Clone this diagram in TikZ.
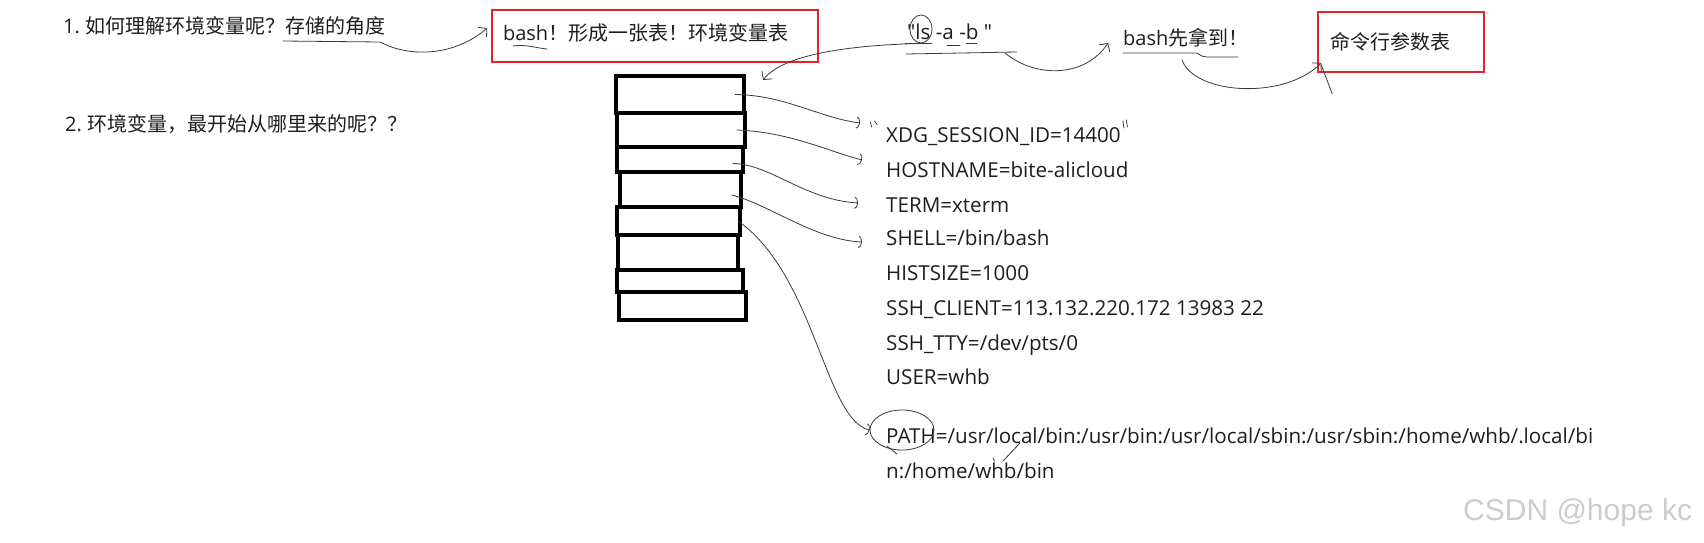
\documentclass[tikz,border=0pt]{standalone}
\usepackage{fontspec}
\setmainfont{Noto Sans CJK SC}
\newfontfamily\latinf{Open Sans}
\newfontfamily\markf{Liberation Sans}
\usetikzlibrary{arrows.meta,calc,shapes.geometric}
\definecolor{boxred}{HTML}{E3242B}
\definecolor{ink}{HTML}{1E1E1E}
\definecolor{pencil}{HTML}{3A3A3A}

\begin{document}
\begin{tikzpicture}[
  x=1pt, y=-1pt,
  cjk/.style={anchor=west, inner sep=0pt, text=ink, text height=15.2pt,
              text depth=0pt, font=\fontsize{20}{24}\selectfont},
  env/.style={anchor=west, inner sep=0pt, text=ink, text height=14.7pt,
              text depth=0pt, font=\latinf\fontsize{20.6}{24}\selectfont},
  redbox/.style={draw=boxred, line width=1.6pt, inner ysep=0pt, align=left,
                 text=ink, font=\fontsize{20}{24}\selectfont},
  cell/.style={draw, line width=4pt, inner sep=0pt, outer sep=0pt},
  pen/.style={draw=pencil, line width=0.8pt, line cap=round, line join=round},
  hook/.style={pen, -{Straight Barb[length=6pt, width=13pt]}},
  curl/.style={pen, -{Arc Barb[length=3.5pt, width=12pt]}}
]
\fill[white] (0,0) rectangle (1704,543);
\useasboundingbox (0,0) rectangle (1704,543);

%--- table -------------------------------------------------------------------
\foreach \n/\cx/\cy/\w/\h in {1/680/94.5/128/37, 2/681/130/128/34,
    3/680/159.5/126/25, 4/680.5/189.5/121/35, 5/678.5/221/123/28,
    6/678/252.5/120/35, 7/680/281/126/22, 8/682.5/306/127/28}
  \node[cell, minimum width=\w pt, minimum height=\h pt] (c\n) at (\cx,\cy) {};

%--- questions ---------------------------------------------------------------
\node[cjk] (q1) at (63,26) {{\latinf 1.} 如何理解环境变量呢？存储的角度};
\node[cjk] (q2) at (65,124) {{\latinf 2.} 环境变量，最开始从哪里来的呢？？};

%--- red boxes ---------------------------------------------------------------
\node[redbox, text width=304pt, inner xsep=11pt, minimum height=52pt,
      text height=15.2pt, text depth=6pt] (tbl) at (655,36)
      {{\latinf bash}！形成一张表！环境变量表};
\node[redbox, text width=142pt, inner xsep=12pt, minimum height=60pt,
      text height=15.2pt, text depth=0pt] (args) at (1401,42) {命令行参数表};
\draw[pen] (513,46) .. controls (525,44) and (536,48) .. (547,49);

\coordinate (u1) at (283,41);
\draw[hook] (u1) -- (380,42) .. controls (410,58) and (455,56)
  .. ([xshift=-4pt,yshift=8pt]tbl.west);

%--- command line ------------------------------------------------------------
\node[env] (cmd) at (907,32) {"ls -a -b "};
\node[pen, ellipse, minimum width=22pt, minimum height=28pt,
      inner sep=0pt] (lsring) at (921,29) {};
\draw[pen] (905,43) -- (932,43) (947,45) -- (960,45) (966,43) -- (977,43);
\draw[pen] (906,54) -- (1017,52);
\draw[hook] (lsring.south) .. controls (860,45) and (785,52)
  .. ([xshift=19pt,yshift=-4pt]c1.north east);

\node[cjk] (first) at (1123,38) {{\latinf bash}先拿到！};
\coordinate (u3) at (1005,53);
\draw[hook] (u3) .. controls (1035,78) and (1085,78)
  .. ([xshift=-15pt,yshift=-5pt]first.west);
\draw[pen] (1123,53) -- (1197,53) .. controls (1203,57) .. (1212,57) -- (1238,57);
\coordinate (u4) at (1182,60);
\draw[hook] (u4) .. controls (1195,95) and (1285,100)
  .. ([xshift=4pt,yshift=10pt]args.south west);
\draw[pen] ([xshift=4pt,yshift=8pt]args.south west) -- ++(11,29);

%--- variables ---------------------------------------------------------------
\foreach \n/\yy/\txt in {1/135/{XDG\_SESSION\_ID=14400},
    2/170/{HOSTNAME=bite-alicloud}, 3/205/{TERM=xterm},
    4/238/{SHELL=/bin/bash}, 5/273/{HISTSIZE=1000},
    6/308/{SSH\_CLIENT=113.132.220.172 13983 22},
    7/343/{SSH\_TTY=/dev/pts/0}, 8/377/{USER=whb}}
  \node[env] (e\n) at (886,\yy) {\txt};
\node[env] (p1) at (886,436)
  {PATH=/usr/local/bin:/usr/bin:/usr/local/sbin:/usr/sbin:/home/whb/.local/bi};
\node[env] (p2) at (886,471) {n:/home/whb/bin};
\draw[pen] (870.5,122) -- (871.5,127) (874.5,121) -- (877,124.5);
\draw[pen] ($(e1.east)+(2,-14)$) -- ++(1,7) ($(e1.east)+(5.5,-15)$) -- ++(1,7);

\draw[curl] ([xshift=-9pt]c1.east) .. controls (785,95) and (820,118)
  .. ($(e1.west)+(-26,-12)$);
\draw[curl] ([xshift=-8pt]c2.east) .. controls (790,132) and (830,152)
  .. ($(e2.west)+(-24,-10)$);
\draw[curl] ([xshift=-10pt,yshift=-4pt]c3.east) .. controls (770,164) and (805,200)
  .. ($(e3.west)+(-28,-2)$);
\draw[curl] ([xshift=-9pt,yshift=-5.5pt]c4.east) .. controls (770,205) and (815,240)
  .. ($(e4.west)+(-24,4)$);

\node[pen, ellipse, minimum width=64pt, minimum height=40pt,
      inner sep=0pt] (ring) at (902,430) {};
\draw[pen] (887,446) -- (897,454);
\draw[curl] ([xshift=-2pt]c5.east) .. controls (815,275) and (825,420) .. (ring.west);
\draw[pen] (1003,461) -- (1020,443) (993,458) -- (994.5,461);

%--- watermark ---------------------------------------------------------------
\node[anchor=west, inner sep=0pt, text=black!20,
      font=\markf\fontsize{30}{36}\selectfont] (wm) at (1463,513) {CSDN @hope kc};
\end{tikzpicture}
\end{document}
